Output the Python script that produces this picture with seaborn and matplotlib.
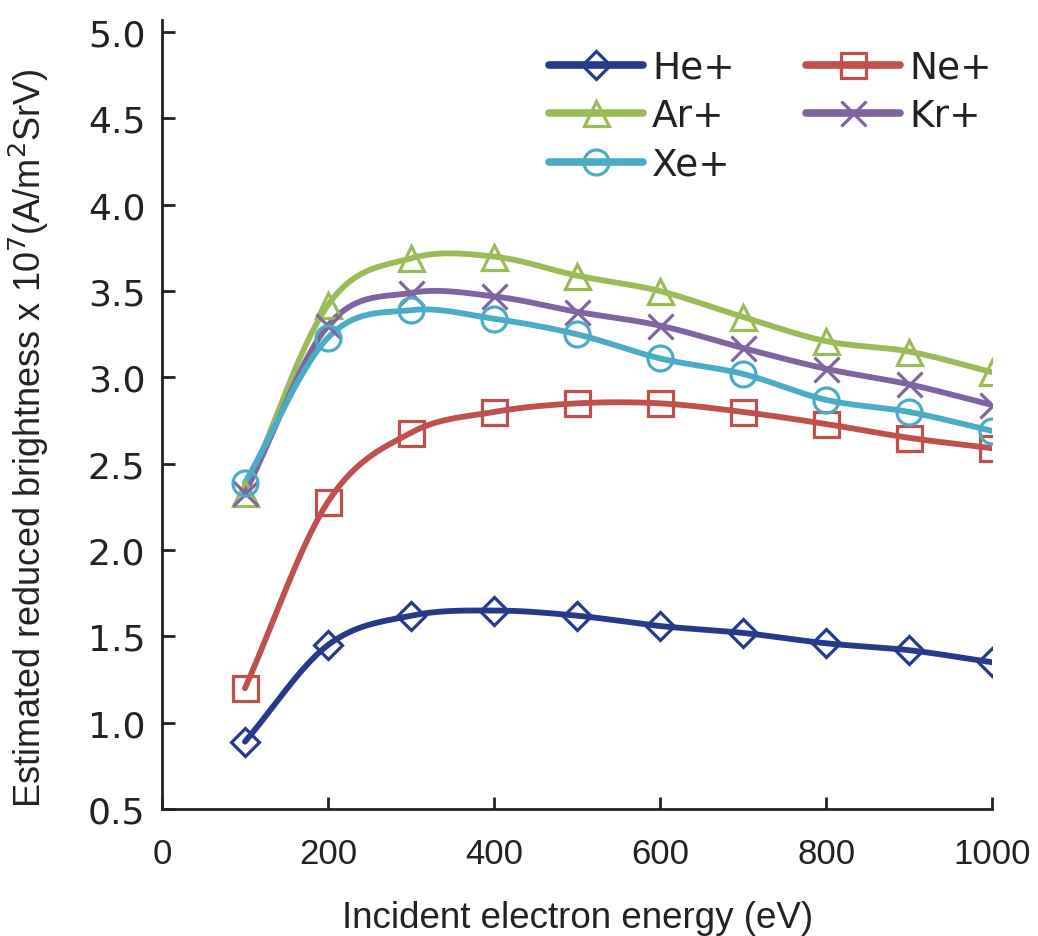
import numpy as np
import pandas as pd
import matplotlib
matplotlib.use("Agg")
import matplotlib.pyplot as plt
from matplotlib.lines import Line2D
import seaborn as sns

energy = [100, 200, 300, 400, 500, 600, 700, 800, 900, 1000]
he = [0.89, 1.45, 1.62, 1.65, 1.62, 1.56, 1.52, 1.46, 1.42, 1.35]
ne = [1.20, 2.28, 2.68, 2.80, 2.85, 2.85, 2.80, 2.73, 2.65, 2.59]
ar = [2.33, 3.42, 3.69, 3.70, 3.59, 3.50, 3.35, 3.21, 3.15, 3.03]
kr = [2.33, 3.30, 3.49, 3.47, 3.38, 3.30, 3.17, 3.05, 2.96, 2.84]
xe = [2.39, 3.23, 3.39, 3.34, 3.25, 3.11, 3.02, 2.87, 2.80, 2.69]

series_names = ["He+", "Ne+", "Ar+", "Kr+", "Xe+"]
series_vals = [he, ne, ar, kr, xe]
colors = {"He+": "#27398a", "Ne+": "#c0504d", "Ar+": "#9bbb59",
          "Kr+": "#8064a2", "Xe+": "#4bacc6"}
markers = {"He+": "D", "Ne+": "s", "Ar+": "^", "Kr+": "x", "Xe+": "o"}
msizes = {"He+": 14, "Ne+": 18, "Ar+": 18, "Kr+": 18, "Xe+": 18}

sns.set_theme(style="ticks")
plt.rcParams['font.family'] = ['Liberation Sans', 'DejaVu Sans']


def smooth(x, y, n=30):
    # Catmull-Rom style smoothing of the drawn line (like spreadsheet "smoothed line")
    x = np.asarray(x, float); y = np.asarray(y, float)
    px = np.concatenate([[2 * x[0] - x[1]], x, [2 * x[-1] - x[-2]]])
    py = np.concatenate([[2 * y[0] - y[1]], y, [2 * y[-1] - y[-2]]])
    xs, ys = [], []
    for i in range(1, len(px) - 2):
        t = np.linspace(0, 1, n, endpoint=(i == len(px) - 3))
        t2, t3 = t * t, t * t * t
        for arr, out in ((px, xs), (py, ys)):
            p0, p1, p2, p3 = arr[i - 1], arr[i], arr[i + 1], arr[i + 2]
            out.extend(0.5 * ((2 * p1) + (-p0 + p2) * t +
                              (2 * p0 - 5 * p1 + 4 * p2 - p3) * t2 +
                              (-p0 + 3 * p1 - 3 * p2 + p3) * t3))
    return np.array(xs), np.array(ys)


fig = plt.figure(figsize=(10.38, 9.37), dpi=100)
ax = fig.add_axes([0.156, 0.1355, 0.80, 0.842])

for name, vals in zip(series_names, series_vals):
    sx, sy = smooth(energy, vals)
    sm = pd.DataFrame({"x": sx, "y": sy})
    sns.lineplot(data=sm, x="x", y="y", sort=False, estimator=None,
                 color=colors[name], linewidth=4.2, ax=ax, zorder=2)
    pts = pd.DataFrame({"x": energy, "y": vals})
    sns.lineplot(data=pts, x="x", y="y", estimator=None, linestyle="",
                 marker=markers[name], markersize=msizes[name],
                 markerfacecolor="none", markeredgecolor=colors[name],
                 markeredgewidth=2.3, color=colors[name], ax=ax, zorder=3)

ax.set_xlim(0, 1000)
ax.set_ylim(0.5, 5.07)
ax.set_xticks([0, 200, 400, 600, 800, 1000])
ax.set_yticks(np.arange(0.5, 5.01, 0.5))
ax.set_yticklabels([f"{v:.1f}" for v in np.arange(0.5, 5.01, 0.5)])
ax.tick_params(axis="both", direction="in", length=9, width=2, colors="#222222")
ax.tick_params(axis="x", labelsize=25, pad=20)
ax.tick_params(axis="y", labelsize=26, pad=12)
for lab in ax.get_yticklabels():
    lab.set_family(['DejaVu Sans'])
for s in ["top", "right"]:
    ax.spines[s].set_visible(False)
for s in ["left", "bottom"]:
    ax.spines[s].set_linewidth(2)
    ax.spines[s].set_color("#222222")

ax.set_xlabel("Incident electron energy (eV)", fontsize=26.5, labelpad=22, color="#222222")
ax.set_ylabel(r"Estimated reduced brightness x 10$^{7}$(A/m$^{2}$SrV)",
              fontsize=26, color="#222222")
ax.yaxis.set_label_coords(-0.133, 0.471)

handles = {}
for name in series_names:
    handles[name] = Line2D([], [], color=colors[name], linewidth=5.5,
                           marker=markers[name], markersize=msizes[name],
                           markerfacecolor="none", markeredgecolor=colors[name],
                           markeredgewidth=2.3)
order = ["He+", "Ar+", "Xe+", "Ne+", "Kr+"]
leg = ax.legend([handles[n] for n in order], order, ncol=2, loc="upper right",
                bbox_to_anchor=(1.04, 1.005), frameon=False,
                prop={"family": "DejaVu Sans", "size": 27},
                handlelength=2.5, handletextpad=0.25, columnspacing=1.9,
                labelspacing=0.33)
for t in leg.get_texts():
    t.set_color("#222222")

fig.savefig("out.png", dpi=100)
